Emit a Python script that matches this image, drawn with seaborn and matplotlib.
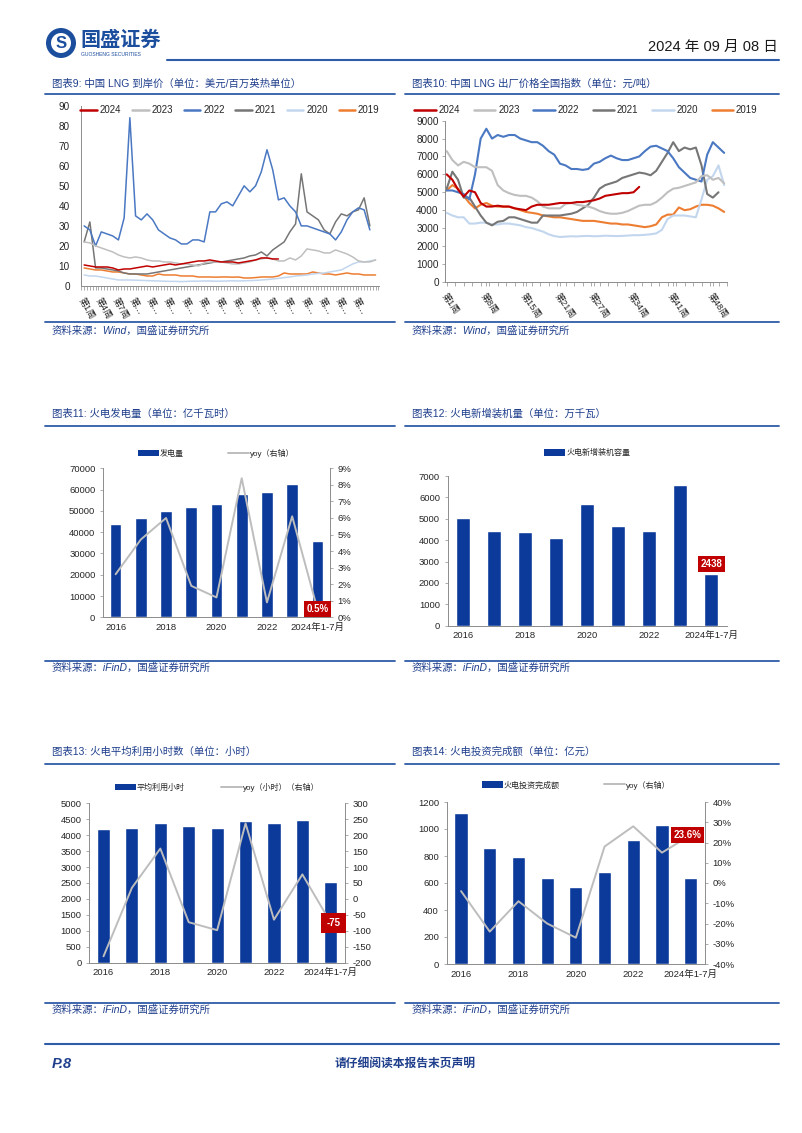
import numpy as np
import pandas as pd
import seaborn as sns
import matplotlib.pyplot as plt
from matplotlib.lines import Line2D
from matplotlib.patches import Ellipse, Patch

W, H = 802, 1133

# ---- 图表9: 中国LNG到岸价, weekly readings (美元/百万英热单位)
cif_weeks = list(range(1, 53))
cif_2024 = [10.5, 10, 9.5, 9.5, 9.5, 9, 8, 8.5, 8.5, 9,
            9.5, 10, 9.5, 10, 10.5, 11, 10.5, 11, 11.5, 12,
            12.5, 12.5, 13, 12.5, 12, 12, 12, 11.5, 12, 12.5,
            13, 14, 14, 13.5, 13.5]
cif_2023 = [22, 21.5, 20, 19, 18, 17, 15.5, 14.5, 14, 14.5,
            14, 13, 12.5, 12.5, 12, 12, 11.5, 11, 11, 10.5,
            10, 11.5, 12, 12, 12, 11.5, 11, 11, 11.5, 12,
            13, 13.5, 14, 13.5, 12.5, 12.5, 14, 13, 15, 18.5,
            18, 17.5, 16.5, 16.5, 18, 17, 16, 14.5, 12.5, 12,
            12, 13]
cif_2022 = [30, 28, 20, 27, 26, 25, 23, 34, 84, 35,
            33, 36, 33, 28, 26, 24, 23, 21, 21, 23,
            23, 22, 37, 37, 41, 42, 40, 45, 50, 47,
            50, 57, 68, 58, 43, 44, 40, 37, 30, 30,
            29, 28, 27, 26, 23, 27, 33, 37, 39, 38,
            28]
cif_2021 = [22, 32, 9, 9, 8.5, 8, 7.5, 6.5, 6, 6,
            6, 6, 6.5, 7, 7.5, 8, 8.5, 9, 9.5, 10,
            10.5, 11, 11.5, 12, 12, 12.5, 13, 13.5, 14, 15,
            15.5, 17, 15, 18, 20, 22, 27, 31, 56, 37,
            35, 33, 28, 26, 32, 36, 35, 37, 38, 44,
            30]
cif_2020 = [5.5, 5, 5, 4.5, 4, 3.5, 3, 3, 3, 2.9,
            2.8, 2.7, 2.6, 2.5, 2.4, 2.3, 2.3, 2.2, 2.3, 2.4,
            2.4, 2.5, 2.5, 2.4, 2.4, 2.5, 2.6, 2.5, 2.6, 2.7,
            2.8, 3, 3.2, 3.5, 3.8, 4.2, 4.5, 5, 5.2, 5.5,
            6, 6.3, 6.5, 7, 7.5, 8, 9.5, 11, 12, 12,
            12.5, 13]
cif_2019 = [9, 8.5, 8, 8, 7.5, 7, 7, 6.5, 6, 6,
            5.5, 5, 5, 6, 5.5, 5.5, 5.5, 5, 5, 5,
            4.5, 4.5, 4.5, 4.4, 4.5, 4.5, 4.4, 4.5, 4, 4,
            4.2, 4.5, 4.5, 4.5, 5, 6.5, 6, 6, 6, 6,
            7, 6.5, 6, 6, 5.5, 6, 6.5, 6, 6, 5.5,
            5.5, 5.5]
cif_label_weeks = list(range(1, 52, 3))
cif_labels = ['第1周', '第4周', '第7周'] + ['第…'] * 14

# ---- 图表10: 中国LNG出厂价格全国指数 (元/吨)
exw_weeks = list(range(1, 51))
exw_2024 = [6000, 5700, 5150, 4750, 5100, 5000, 4400, 4200, 4200, 4250,
            4200, 4200, 4100, 4050, 4000, 4200, 4300, 4300, 4300, 4350,
            4400, 4400, 4400, 4450, 4450, 4500, 4550, 4650, 4800, 4850,
            4900, 4950, 4950, 5000, 5300]
exw_2023 = [7300, 6800, 6500, 6700, 6600, 6400, 6400, 6400, 6200, 5400,
            5100, 4950, 4850, 4800, 4800, 4700, 4500, 4200, 4100, 4100,
            4100, 4350, 4400, 4300, 4250, 4200, 4100, 3950, 3850, 3800,
            3800, 3850, 3950, 4100, 4250, 4300, 4300, 4450, 4700, 5000,
            5200, 5250, 5350, 5450, 5550, 5900, 5950, 5700, 5800, 5500]
exw_2022 = [5100, 5100, 5000, 4900, 4600, 6000, 8000, 8550, 8000, 8200,
            8100, 8200, 8200, 8000, 7900, 7800, 7800, 7600, 7300, 7100,
            6600, 6500, 6300, 6300, 6250, 6300, 6600, 6700, 6900, 7050,
            6900, 6800, 6800, 6900, 7000, 7300, 7550, 7600, 7450, 7300,
            6900, 6400, 6100, 5800, 5700, 5600, 7100, 7800, 7500, 7200]
exw_2021 = [5200, 6150, 5700, 4700, 4700, 4200, 3700, 3300, 3150, 3350,
            3400, 3600, 3600, 3500, 3400, 3300, 3300, 3700, 3700, 3700,
            3700, 3750, 3800, 3900, 4100, 4300, 4700, 5200, 5400, 5500,
            5600, 5800, 5900, 6000, 6100, 6050, 5950, 6200, 6700, 7200,
            7800, 7300, 7500, 7400, 7500, 6500, 4900, 4700, 5000]
exw_2020 = [3850, 3700, 3600, 3600, 3250, 3250, 3300, 3300, 3200, 3200,
            3250, 3250, 3200, 3150, 3050, 3000, 2900, 2800, 2650, 2550,
            2500, 2520, 2540, 2530, 2550, 2560, 2540, 2550, 2570, 2560,
            2550, 2560, 2580, 2600, 2600, 2620, 2650, 2700, 2900, 3500,
            3700, 3700, 3700, 3650, 3600, 4600, 5700, 5900, 6500, 5400]
exw_2019 = [5100, 5400, 5200, 4800, 4400, 4100, 4300, 4400, 4250, 4200,
            4200, 4200, 4100, 4000, 3900, 3850, 3800, 3700, 3650, 3600,
            3600, 3550, 3500, 3450, 3400, 3400, 3400, 3350, 3300, 3250,
            3250, 3200, 3200, 3150, 3100, 3050, 3100, 3200, 3600, 3750,
            3750, 4150, 4000, 4050, 4200, 4300, 4300, 4250, 4100, 3900]
exw_label_weeks = [1, 8, 15, 21, 27, 34, 41, 48]
exw_labels = ['第1周', '第8周', '第15周', '第21周', '第27周', '第34周', '第41周', '第48周']

# ---- 图表11-14: 年度数据
bar_years = ['2016', '2017', '2018', '2019', '2020', '2021', '2022', '2023', '2024年1-7月']
gen_output = [44000, 46500, 50000, 52000, 53000, 58000, 58800, 62500, 36000]
gen_yoy = [2.6, 4.7, 6.0, 1.9, 1.2, 8.4, 0.9, 6.1, 0.5]
new_capacity = [5050, 4450, 4380, 4100, 5700, 4650, 4450, 6580, 2438]
util_hours = [4190, 4230, 4380, 4300, 4230, 4460, 4380, 4470, 2520]
util_hours_yoy = [-180, 35, 158, -73, -98, 237, -65, 77, -75]
invest = [1120, 860, 790, 635, 570, 680, 915, 1030, 635]
invest_yoy = [-4, -24, -9, -20, -27, 18, 28, 15, 23.6]

YEARS = ['2024', '2023', '2022', '2021', '2020', '2019']
YEAR_COLORS = {'2024': '#C00000', '2023': '#BFBFBF', '2022': '#4A78C2',
               '2021': '#767676', '2020': '#C2D6EE', '2019': '#ED7D31'}
BAR_BLUE = '#0B3A9A'
YOY_GRAY = '#BDBDBD'
TEXT_BLUE = '#1F3F8C'
RULE_BLUE = '#2F5CA8'
LABEL_RED = '#C00000'
AXIS_GRAY = '#8C8C8C'
TICK_TXT = '#262626'

sns.set_theme(style='white')
plt.rcParams['font.family'] = ['Liberation Sans', 'Noto Sans CJK SC', 'DejaVu Sans']
plt.rcParams['axes.unicode_minus'] = False

fig = plt.figure(figsize=(W / 100, H / 100), dpi=100)


def px_axes(left, top, right, bottom):
    return fig.add_axes([left / W, 1 - bottom / H, (right - left) / W, (bottom - top) / H])


def hline(x0, x1, y, color=RULE_BLUE, lw=1.3):
    fig.add_artist(Line2D([x0 / W, x1 / W], [1 - y / H, 1 - y / H], color=color, lw=lw))


def ftext(x, y, s, **kw):
    fig.text(x / W, 1 - y / H, s, **kw)


# ---------------- page header / footer ----------------
fig.add_artist(Ellipse((61 / W, 1 - 43 / H), 30 / W, 30 / H, facecolor='#1C4E9E',
                       edgecolor='none', transform=fig.transFigure))
fig.add_artist(Ellipse((61 / W, 1 - 43 / H), 20 / W, 20 / H, facecolor='white',
                       edgecolor='none', transform=fig.transFigure))
ftext(61, 44, 'S', ha='center', va='center', fontsize=12, fontweight='bold', color='#1C4E9E')
ftext(80, 40, '国盛证券', ha='left', va='center', fontsize=14.5, fontweight='bold', color='#1C4E9E')
ftext(81, 55, 'GUOSHENG SECURITIES', ha='left', va='center', fontsize=3.6, color='#1C4E9E')
ftext(778, 47, '2024 年 09 月 08 日', ha='right', va='center', fontsize=10.5, color='#1a1a1a')
hline(167, 779, 60, lw=1.5)

ftext(52, 1064, 'P.8', ha='left', va='center', fontsize=10.5, fontweight='bold',
      fontstyle='italic', color=TEXT_BLUE)
ftext(405, 1064, '请仔细阅读本报告末页声明', ha='center', va='center', fontsize=8.5,
      fontweight='bold', color=TEXT_BLUE)
hline(45, 779, 1044, lw=1.5)

titles = [(52, 84, '图表9: 中国 LNG 到岸价（单位：美元/百万英热单位）'),
          (412, 84, '图表10: 中国 LNG 出厂价格全国指数（单位：元/吨）'),
          (52, 414, '图表11: 火电发电量（单位：亿千瓦时）'),
          (412, 414, '图表12: 火电新增装机量（单位：万千瓦）'),
          (52, 752, '图表13: 火电平均利用小时数（单位：小时）'),
          (412, 752, '图表14: 火电投资完成额（单位：亿元）')]
for x, y, s in titles:
    ftext(x, y, s, ha='left', va='center', fontsize=7.5, color=TEXT_BLUE)
for y in (94, 426, 764):
    hline(45, 395, y)
    hline(405, 779, y)

sources = [(52, 331, 'Wind'), (412, 331, 'Wind'), (52, 668, 'iFinD'), (412, 668, 'iFinD'),
           (52, 1010, 'iFinD'), (412, 1010, 'iFinD')]
for x, y, src in sources:
    ftext(x, y, f'资料来源：{src}，国盛证券研究所', ha='left', va='center', fontsize=7.5,
          color=TEXT_BLUE, fontstyle='italic')
for y in (322, 661, 1003):
    hline(45, 395, y)
    hline(405, 779, y)


# ---------------- LNG line charts ----------------
def lng_panel(ax, weeks, series, lw):
    rows = [(w, yr, v) for yr, vals in series.items() for w, v in zip(weeks, vals)]
    df = pd.DataFrame(rows, columns=['week', 'year', 'value'])
    for z, yr in enumerate(reversed(YEARS)):
        sns.lineplot(data=df[df['year'] == yr], x='week', y='value', color=YEAR_COLORS[yr],
                     linewidth=lw, ax=ax, zorder=2 + z, legend=False)
    ax.set(xlabel='', ylabel='')
    for side in ('top', 'right'):
        ax.spines[side].set_visible(False)
    for side in ('left', 'bottom'):
        ax.spines[side].set_color(AXIS_GRAY)
        ax.spines[side].set_linewidth(0.7)
    ax.tick_params(axis='y', labelsize=7.2, labelcolor=TICK_TXT, pad=2)
    ax.tick_params(axis='x', which='both', bottom=True, direction='out', length=3,
                   width=0.5, color=AXIS_GRAY, labelsize=6.6, labelcolor=TICK_TXT, pad=4)
    handles = [Line2D([], [], color=YEAR_COLORS[y], lw=1.8) for y in YEARS]
    return handles


ax9 = px_axes(81, 105.7, 379, 286)
h9 = lng_panel(ax9, cif_weeks, {'2024': cif_2024, '2023': cif_2023, '2022': cif_2022,
                                 '2021': cif_2021, '2020': cif_2020, '2019': cif_2019}, 1.1)
ax9.set_xlim(0.45, 52.6)
ax9.set_ylim(0, 90)
ax9.set_yticks(range(0, 91, 10))
ax9.set_xticks(cif_label_weeks)
ax9.set_xticklabels(cif_labels)
ax9.set_xticks(np.arange(0.5, 52.6, 0.5), minor=True)
plt.setp(ax9.get_xticklabels(), rotation=-60, ha='left', va='top', rotation_mode='anchor')
ax9.legend(h9, YEARS, loc='center', bbox_to_anchor=(0.5, 0.975), ncol=6, frameon=False,
           fontsize=7, handlelength=1.7, handletextpad=0.3, columnspacing=1.1)

ax10 = px_axes(445, 120.7, 727, 281.7)
h10 = lng_panel(ax10, exw_weeks, {'2024': exw_2024, '2023': exw_2023, '2022': exw_2022,
                                   '2021': exw_2021, '2020': exw_2020, '2019': exw_2019}, 1.5)
ax10.set_xlim(0.7, 50.3)
ax10.set_ylim(0, 9000)
ax10.set_yticks(range(0, 9001, 1000))
ax10.tick_params(axis='y', left=True, length=2.5, width=0.5, color=AXIS_GRAY)
ax10.set_xticks(exw_label_weeks)
ax10.set_xticklabels(exw_labels)
ax10.set_xticks(np.arange(1, 51, 1.5), minor=True)
plt.setp(ax10.get_xticklabels(), rotation=-55, ha='left', va='top', rotation_mode='anchor')
ax10.legend(h10, YEARS, loc='center', bbox_to_anchor=(0.5, 1.067), ncol=6, frameon=False,
            fontsize=7, handlelength=2.2, handletextpad=0.3, columnspacing=1.4)


# ---------------- annual bar charts ----------------
def bar_panel(ax, values, ymax, ystep):
    sns.barplot(x=bar_years, y=values, ax=ax, color=BAR_BLUE, saturation=1, width=0.46)
    ax.set(xlabel='', ylabel='')
    ax.set_xlim(-0.5, 8.5)
    ax.set_ylim(0, ymax)
    ax.set_yticks(np.arange(0, ymax + 1, ystep))
    ax.set_xticks(range(len(bar_years)))
    ax.set_xticklabels([s if i % 2 == 0 else '' for i, s in enumerate(bar_years)])
    for side in ('top', 'right'):
        ax.spines[side].set_visible(False)
    for side in ('left', 'bottom'):
        ax.spines[side].set_color(AXIS_GRAY)
        ax.spines[side].set_linewidth(0.7)
    ax.tick_params(axis='y', left=True, length=2.5, width=0.5, color=AXIS_GRAY,
                   labelsize=6.8, labelcolor=TICK_TXT, pad=3)
    ax.tick_params(axis='x', length=0, labelsize=6.8, labelcolor=TICK_TXT, pad=4)


def yoy_panel(ax, values, lo, hi, step, fmt):
    ax2 = ax.twinx()
    sns.lineplot(x=list(range(len(values))), y=values, ax=ax2, color=YOY_GRAY, linewidth=1.4)
    ax2.set(xlabel='', ylabel='')
    ax2.set_xlim(-0.5, 8.5)
    ax2.set_ylim(lo, hi)
    ticks = np.arange(lo, hi + step / 2, step)
    ax2.set_yticks(ticks)
    ax2.set_yticklabels([fmt(t) for t in ticks])
    for side in ('top', 'left', 'bottom'):
        ax2.spines[side].set_visible(False)
    ax2.spines['right'].set_color(AXIS_GRAY)
    ax2.spines['right'].set_linewidth(0.7)
    ax2.tick_params(axis='y', right=True, length=2.5, width=0.5, color=AXIS_GRAY,
                    labelsize=6.8, labelcolor=TICK_TXT, pad=3)
    ax2.grid(False)
    return ax2


def red_tag(ax, x, y, s, dy=0, pad=0.28):
    ax.annotate(s, (x, y), xytext=(0, dy), textcoords='offset points', ha='center',
                va='center', color='white', fontsize=7, fontweight='bold', zorder=10,
                bbox=dict(boxstyle=f'square,pad={pad}', fc=LABEL_RED, ec='none'))


def bar_legend(ax, labels, with_line, y_frac, spacing):
    handles = [Patch(facecolor=BAR_BLUE, edgecolor='none')]
    if with_line:
        handles.append(Line2D([], [], color=YOY_GRAY, lw=1.4))
    ax.legend(handles, labels, loc='center', bbox_to_anchor=(0.5, y_frac), ncol=2,
              frameon=False, fontsize=5.8, handlelength=2.6, handleheight=0.9,
              handletextpad=0.1, columnspacing=spacing)


# 图表11
ax11 = px_axes(103, 468.3, 330, 617.3)
bar_panel(ax11, gen_output, 70000, 10000)
ax11b = yoy_panel(ax11, gen_yoy, 0, 9, 1, lambda t: f'{t:.0f}%')
red_tag(ax11b, 8, gen_yoy[-1], f'{gen_yoy[-1]:.1f}%')
bar_legend(ax11, ['发电量', 'yoy（右轴）'], True, 1 + 15 / 149, 5.5)

# 图表12
ax12 = px_axes(447.7, 476, 726.7, 625.7)
bar_panel(ax12, new_capacity, 7000, 1000)
red_tag(ax12, 8, new_capacity[-1], f'{new_capacity[-1]}', dy=7)
bar_legend(ax12, ['火电新增装机容量'], False, 1 + 23 / 149.7, 1)

# 图表13
ax13 = px_axes(89.3, 803.3, 345, 962.7)
bar_panel(ax13, util_hours, 5000, 500)
ax13b = yoy_panel(ax13, util_hours_yoy, -200, 300, 50, lambda t: f'{t:.0f}')
red_tag(ax13b, 8.1, util_hours_yoy[-1], f'{util_hours_yoy[-1]}', pad=0.55)
bar_legend(ax13, ['平均利用小时', 'yoy（小时）（右轴）'], True, 1 + 16 / 159.4, 4.5)

# 图表14
ax14 = px_axes(446.7, 802, 705, 964)
bar_panel(ax14, invest, 1200, 200)
ax14b = yoy_panel(ax14, invest_yoy, -40, 40, 10, lambda t: f'{t:.0f}%')
red_tag(ax14b, 7.9, invest_yoy[-1], f'{invest_yoy[-1]:.1f}%')
bar_legend(ax14, ['火电投资完成额', 'yoy（右轴）'], True, 1 + 17 / 162, 5.5)

fig.savefig('out.png', dpi=100)
